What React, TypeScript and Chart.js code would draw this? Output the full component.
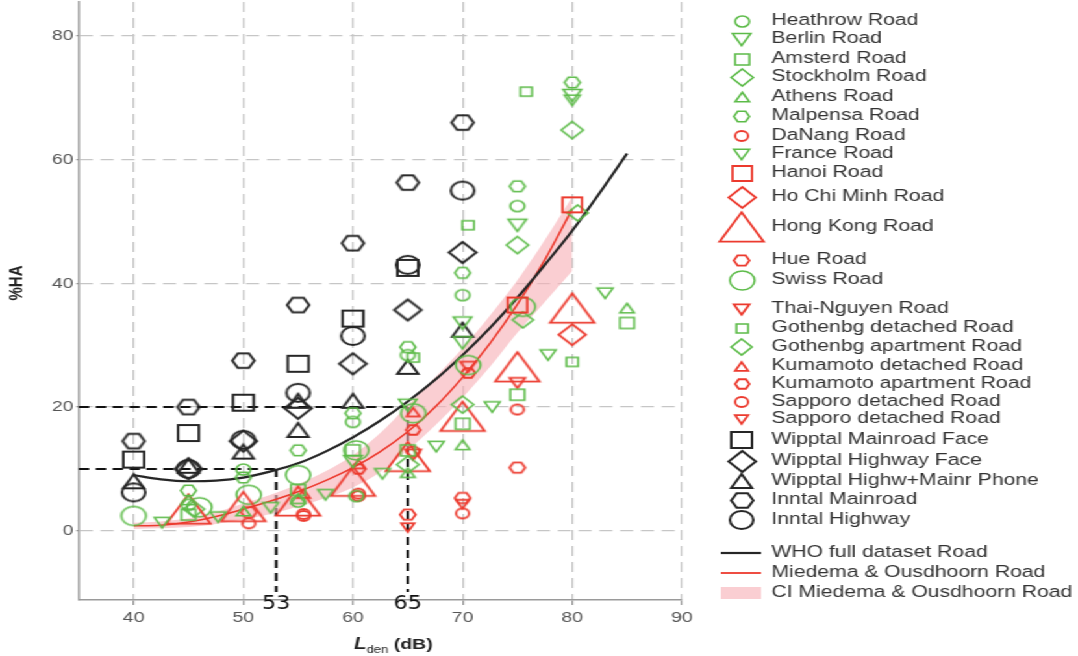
import React, { useEffect, useRef } from "react";
import { Chart, registerables } from "chart.js";
Chart.register(...registerables);

// ---------------- data ----------------
type Pt = [number, number];

const heathrowRoad: Pt[] = [[45, 4.2], [50, 9.9], [55, 4.7], [60.3, 5.6], [60, 17.6], [65, 28.4], [70, 38.1], [75, 52.5]];
const berlinRoad: Pt[] = [[60, 11.2], [65, 20.3], [70, 33.6], [70, 30.4], [75, 49.4], [80, 70.4]];
const amsterdRoad: Pt[] = [[45, 2.6], [55, 6.6], [60, 13], [65, 13], [70, 17.3], [75, 22], [85, 33.6]];
const stockholmRoad: Pt[] = [[65, 10.7], [70, 20.4], [75, 46.2], [80, 64.8]];
const athensRoad: Pt[] = [[45, 5], [50, 3.2], [55, 5.2], [65, 9.4], [70, 13.9], [85, 36]];
const malpensaRoad: Pt[] = [[45, 6.5], [50, 8.6], [55, 13], [60, 19], [65, 29.7], [70, 41.7], [75, 55.7], [80, 72.5]];
const daNangRoad: Pt[] = [[50.5, 1.2], [55.5, 2.7], [60.5, 6], [70, 2.8], [75, 19.6]];
const franceRoad: Pt[] = [[42.6, 1.3], [47.7, 2.2], [52.5, 3.7], [57.5, 5.8], [62.7, 9.2], [67.6, 13.6], [72.7, 20], [77.8, 28.4], [83, 38.4], [80, 69.6]];
const hanoiRoad: Pt[] = [[75, 36.5], [80, 52.7]];
const hoChiMinhRoad: Pt[] = [[80, 31.7]];
const hongKongRoad: Pt[] = [[45, 3.5], [50, 3.9], [55, 4.8], [60, 8], [65, 12], [70, 18.5], [75, 26.5], [80, 36]];
const hueRoad: Pt[] = [[50.5, 3], [65, 2.6], [70, 5.3], [75, 10.2]];
const swissRoad: Pt[] = [[40, 2.4], [46, 3.8], [50.5, 5.8], [55, 9], [60.3, 13], [65.5, 19], [70.5, 26.8], [75.5, 36.2]];
const thaiNguyenRoad: Pt[] = [[75, 23.9], [65.5, 12.3], [70.5, 26.5]];
const gothenbgDetachedRoad: Pt[] = [[65.5, 28], [70.5, 49.4], [75.8, 71], [80, 27.3]];
const gothenbgApartmentRoad: Pt[] = [[75.5, 34.1], [80.5, 51.4], [45.5, 3.5]];
const kumamotoDetachedRoad: Pt[] = [[55.5, 6], [60.5, 10.8], [65.5, 19.2]];
const kumamotoApartmentRoad: Pt[] = [[60.5, 10], [65.5, 16.3], [70.5, 25.5]];
const sapporoDetachedCircle: Pt[] = [[55.5, 2.4], [60.5, 5.6], [65.5, 12.8]];
const sapporoDetachedTriangle: Pt[] = [[65, 0.5], [70, 4.3]];
const wipptalMainroadFace: Pt[] = [[40, 11.5], [45, 15.8], [50, 20.7], [55, 27], [60, 34.3], [65, 42.5]];
const wipptalHighwayFace: Pt[] = [[45, 10], [50, 14.5], [55, 19.8], [60, 27], [65, 35.7], [70, 45]];
const wipptalHighwMainrPhone: Pt[] = [[40, 8], [45, 10.5], [50, 12.8], [55, 21], [55, 16.3], [60, 21], [65, 26.5], [70, 32.5]];
const inntalMainroad: Pt[] = [[40, 14.5], [45, 20], [50, 27.5], [55, 36.5], [60, 46.5], [65, 56.3], [70, 66]];
const inntalHighway: Pt[] = [[40, 6.2], [45, 10], [50, 14.7], [55, 22.3], [60, 31.5], [65, 43], [70, 55]];

const whoLden = [40, 42.5, 45, 47.5, 50, 52.5, 55, 57.5, 60, 62.5, 65, 67.5, 70, 72.5, 75, 77.5, 80, 82.5, 85];
const whoHA = [9.0, 8.3, 8.0, 8.1, 8.6, 9.6, 10.9, 12.8, 15.1, 17.8, 20.9, 24.4, 28.4, 32.8, 37.7, 43.0, 48.5, 54.6, 61.0];
const miedemaLden = [40, 42.5, 45, 47.5, 50, 52.5, 55, 57.5, 60, 62.5, 65, 67.5, 70, 72.5, 75, 77.5, 80];
const miedemaHA = [0.8, 0.9, 1.4, 2.3, 3.5, 4.8, 6.3, 8.1, 10.2, 12.8, 16.0, 20.0, 24.8, 30.3, 36.6, 43.8, 52.0];
const ciLower = [0.3, 0.4, 0.6, 1.1, 1.8, 2.7, 3.9, 5.3, 7.0, 9.5, 13.0, 17.0, 21.5, 26.5, 32.0, 37.0, 42.0];
const ciUpper = [1.3, 1.5, 2.0, 3.0, 4.4, 5.8, 7.5, 9.6, 12.2, 15.8, 20.3, 24.8, 29.5, 34.8, 40.5, 47.0, 54.0];

const xTicks = [40, 50, 60, 70, 80, 90];
const yTicks = [0, 20, 40, 60, 80];
const refLden = [53, 65];
const refHA = [10, 20];

// ---------------- styles / layout ----------------
const GREEN = "#5cbb48";
const RED = "#ec3a2e";
const BLACK = "#262626";
const PINK = "rgba(247, 176, 182, 0.62)";
const FONT = '"Liberation Sans", Arial, Helvetica, sans-serif';
const CW = 830; // canvas width, stretched horizontally to 1078
const CH = 656;

type Shape = "circle" | "square" | "diamond" | "triangle" | "triangleDown" | "hexagon";
interface Spec { label: string; data: Pt[]; shape: Shape; color: string; size: number; lw: number; }

const specs: Spec[] = [
  { label: "Heathrow Road", data: heathrowRoad, shape: "circle", color: GREEN, size: 11, lw: 1.6 },
  { label: "Berlin Road", data: berlinRoad, shape: "triangleDown", color: GREEN, size: 14, lw: 1.6 },
  { label: "Amsterd Road", data: amsterdRoad, shape: "square", color: GREEN, size: 11, lw: 1.6 },
  { label: "Stockholm Road", data: stockholmRoad, shape: "diamond", color: GREEN, size: 17, lw: 1.6 },
  { label: "Athens Road", data: athensRoad, shape: "triangle", color: GREEN, size: 11, lw: 1.6 },
  { label: "Malpensa Road", data: malpensaRoad, shape: "hexagon", color: GREEN, size: 12, lw: 1.6 },
  { label: "DaNang Road", data: daNangRoad, shape: "circle", color: RED, size: 10, lw: 1.8 },
  { label: "France Road", data: franceRoad, shape: "triangleDown", color: GREEN, size: 12, lw: 1.6 },
  { label: "Hanoi Road", data: hanoiRoad, shape: "square", color: RED, size: 15, lw: 1.8 },
  { label: "Ho Chi Minh Road", data: hoChiMinhRoad, shape: "diamond", color: RED, size: 21, lw: 1.8 },
  { label: "Hong Kong Road", data: hongKongRoad, shape: "triangle", color: RED, size: 34, lw: 1.8 },
  { label: "Hue Road", data: hueRoad, shape: "hexagon", color: RED, size: 12, lw: 1.8 },
  { label: "Swiss Road", data: swissRoad, shape: "circle", color: GREEN, size: 19, lw: 1.6 },
  { label: "Thai-Nguyen Road", data: thaiNguyenRoad, shape: "triangleDown", color: RED, size: 12, lw: 1.8 },
  { label: "Gothenbg detached Road", data: gothenbgDetachedRoad, shape: "square", color: GREEN, size: 9, lw: 1.6 },
  { label: "Gothenbg apartment Road", data: gothenbgApartmentRoad, shape: "diamond", color: GREEN, size: 16, lw: 1.6 },
  { label: "Kumamoto detached Road", data: kumamotoDetachedRoad, shape: "triangle", color: RED, size: 10, lw: 1.8 },
  { label: "Kumamoto apartment Road", data: kumamotoApartmentRoad, shape: "hexagon", color: RED, size: 11, lw: 1.8 },
  { label: "Sapporo detached Road", data: sapporoDetachedCircle, shape: "circle", color: RED, size: 10, lw: 1.8 },
  { label: "Sapporo detached Road", data: sapporoDetachedTriangle, shape: "triangleDown", color: RED, size: 10, lw: 1.8 },
  { label: "Wipptal Mainroad Face", data: wipptalMainroadFace, shape: "square", color: BLACK, size: 16, lw: 2 },
  { label: "Wipptal Highway Face", data: wipptalHighwayFace, shape: "diamond", color: BLACK, size: 21, lw: 2 },
  { label: "Wipptal Highw+Mainr Phone", data: wipptalHighwMainrPhone, shape: "triangle", color: BLACK, size: 16, lw: 2 },
  { label: "Inntal Mainroad", data: inntalMainroad, shape: "hexagon", color: BLACK, size: 17, lw: 2 },
  { label: "Inntal Highway", data: inntalHighway, shape: "circle", color: BLACK, size: 18, lw: 2 },
];

const LEGEND_ROWS = [21, 39, 59, 77, 97, 116, 136, 154, 173, 197, 227, 260, 280, 309, 328, 347, 366, 384, 402, 419, 440, 461, 481, 500, 520, 553, 573, 593];
const LEGEND_MARK_X = 571;
const LEGEND_TEXT_X = 594;

function makeMarker(shape: Shape, color: string, size: number, lw: number): HTMLCanvasElement {
  const s3 = Math.sqrt(3) / 2;
  let w = size, h = size;
  if (shape === "hexagon" || shape === "triangle" || shape === "triangleDown") h = size * s3;
  const pad = Math.ceil(lw) + 1;
  const c = document.createElement("canvas");
  c.width = Math.ceil(w + 2 * pad);
  c.height = Math.ceil(h + 2 * pad);
  const g = c.getContext("2d")!;
  g.translate(c.width / 2, c.height / 2);
  g.strokeStyle = color;
  g.lineWidth = lw;
  g.lineJoin = "miter";
  g.beginPath();
  if (shape === "circle") {
    g.arc(0, 0, size / 2, 0, Math.PI * 2);
  } else if (shape === "square") {
    g.rect(-size / 2, -size / 2, size, size);
  } else if (shape === "diamond") {
    g.moveTo(0, -size / 2); g.lineTo(size / 2, 0); g.lineTo(0, size / 2); g.lineTo(-size / 2, 0); g.closePath();
  } else if (shape === "triangle") {
    g.moveTo(0, -h / 2); g.lineTo(size / 2, h / 2); g.lineTo(-size / 2, h / 2); g.closePath();
  } else if (shape === "triangleDown") {
    g.moveTo(0, h / 2); g.lineTo(size / 2, -h / 2); g.lineTo(-size / 2, -h / 2); g.closePath();
  } else if (shape === "hexagon") {
    const r = size / 2;
    for (let k = 0; k < 6; k++) {
      const a = (k * Math.PI) / 3;
      const px = r * Math.cos(a), py = r * Math.sin(a);
      if (k === 0) g.moveTo(px, py); else g.lineTo(px, py);
    }
    g.closePath();
  }
  g.stroke();
  return c;
}

const toXY = (xs: number[], ys: number[]) => xs.map((x, i) => ({ x, y: ys[i] }));
const noPad = (scale: any) => { scale.paddingTop = 0; scale.paddingBottom = 0; scale.paddingLeft = 0; scale.paddingRight = 0; };

export default function App() {
  const ref = useRef<HTMLCanvasElement>(null);

  useEffect(() => {
    document.body.style.margin = "0";
    const canvas = ref.current;
    if (!canvas) return;
    const markers = specs.map((s) => makeMarker(s.shape, s.color, s.size, s.lw));

    const scatterSets: any[] = specs.map((s, i) => ({
      type: "scatter",
      label: s.label,
      data: s.data.map(([x, y]) => ({ x, y })),
      pointStyle: markers[i],
      pointRadius: s.size / 2,
      pointHoverRadius: s.size / 2,
      order: 1,
    }));

    const lineSets: any[] = [
      {
        type: "line", label: "WHO full dataset Road", data: toXY(whoLden, whoHA),
        borderColor: BLACK, borderWidth: 2.2, pointRadius: 0, cubicInterpolationMode: "monotone", fill: false, order: 2,
      },
      {
        type: "line", label: "Miedema & Ousdhoorn Road", data: toXY(miedemaLden, miedemaHA),
        borderColor: RED, borderWidth: 1.6, pointRadius: 0, cubicInterpolationMode: "monotone", fill: false, order: 3,
      },
      {
        type: "line", label: "CI lower", data: toXY(miedemaLden, ciLower),
        borderWidth: 0, borderColor: "rgba(0,0,0,0)", pointRadius: 0, cubicInterpolationMode: "monotone", fill: false, order: 4,
      },
      {
        type: "line", label: "CI Miedema & Ousdhoorn Road", data: toXY(miedemaLden, ciUpper),
        borderWidth: 0, borderColor: "rgba(0,0,0,0)", backgroundColor: PINK, pointRadius: 0,
        cubicInterpolationMode: "monotone", fill: "-1", order: 4,
      },
    ];

    const refPlugin = {
      id: "refLines",
      beforeDatasetsDraw(chart: any) {
        const { ctx, chartArea } = chart;
        const xs = chart.scales.x, ys = chart.scales.y;
        ctx.save();
        ctx.strokeStyle = "#111";
        ctx.lineWidth = 2;
        ctx.setLineDash([8, 5]);
        refLden.forEach((lx, i) => {
          const px = xs.getPixelForValue(lx);
          const py = ys.getPixelForValue(refHA[i]);
          ctx.beginPath();
          ctx.moveTo(chartArea.left, py);
          ctx.lineTo(px, py);
          ctx.stroke();
          ctx.beginPath();
          ctx.moveTo(px, py);
          ctx.lineTo(px, chartArea.bottom - 8);
          ctx.stroke();
        });
        ctx.restore();
      },
      afterDraw(chart: any) {
        const { ctx, chartArea } = chart;
        const xs = chart.scales.x;
        ctx.save();
        ctx.fillStyle = "#111";
        ctx.textAlign = "center";
        ctx.textBaseline = "middle";
        ctx.font = `19px "Liberation Sans Narrow", "DejaVu Sans Condensed", ${FONT}`;
        refLden.forEach((lx) => {
          ctx.fillText(String(lx), xs.getPixelForValue(lx), chartArea.bottom + 4);
        });
        ctx.restore();
      },
    };

    const titlePlugin = {
      id: "axisTitles",
      afterDraw(chart: any) {
        const { ctx, chartArea } = chart;
        ctx.save();
        ctx.fillStyle = "#222";
        ctx.textBaseline = "alphabetic";
        const f1 = `italic bold 16px ${FONT}`;
        const f2 = `10px ${FONT}`;
        const f3 = `bold 15px ${FONT}`;
        ctx.font = f1; const w1 = ctx.measureText("L").width;
        ctx.font = f2; const w2 = ctx.measureText("den").width;
        ctx.font = f3; const w3 = ctx.measureText(" (dB)").width;
        const total = w1 + w2 + w3;
        let x = (chartArea.left + chartArea.right) / 2 + 10 - total / 2;
        const base = 649;
        ctx.font = f1; ctx.fillText("L", x, base); x += w1;
        ctx.font = f2; ctx.fillText("den", x, base + 4); x += w2;
        ctx.font = f3; ctx.fillText(" (dB)", x, base);
        ctx.translate(13, 283);
        ctx.rotate(-Math.PI / 2);
        ctx.textAlign = "center";
        ctx.textBaseline = "middle";
        ctx.font = `bold 15px ${FONT}`;
        ctx.fillText("%HA", 0, 0);
        ctx.restore();
      },
    };

    const legendPlugin = {
      id: "sideLegend",
      afterDraw(chart: any) {
        const { ctx } = chart;
        ctx.save();
        ctx.font = `16.3px ${FONT}`;
        ctx.fillStyle = "#333";
        ctx.textBaseline = "middle";
        ctx.textAlign = "left";
        specs.forEach((s, i) => {
          const y = LEGEND_ROWS[i];
          const m = markers[i];
          ctx.drawImage(m, Math.round(LEGEND_MARK_X - m.width / 2), Math.round(y - m.height / 2));
          ctx.fillText(s.label, LEGEND_TEXT_X, y);
        });
        const n = specs.length;
        let y = LEGEND_ROWS[n];
        ctx.strokeStyle = BLACK; ctx.lineWidth = 2.2;
        ctx.beginPath(); ctx.moveTo(555, y); ctx.lineTo(586, y); ctx.stroke();
        ctx.fillText(lineSets[0].label, LEGEND_TEXT_X, y);
        y = LEGEND_ROWS[n + 1];
        ctx.strokeStyle = RED; ctx.lineWidth = 1.8;
        ctx.beginPath(); ctx.moveTo(555, y); ctx.lineTo(586, y); ctx.stroke();
        ctx.fillText(lineSets[1].label, LEGEND_TEXT_X, y);
        y = LEGEND_ROWS[n + 2];
        ctx.fillStyle = PINK;
        ctx.fillRect(555, y - 6, 31, 12);
        ctx.fillStyle = "#333";
        ctx.fillText(lineSets[3].label, LEGEND_TEXT_X, y);
        ctx.restore();
      },
    };

    const gridColor = "#c6c6c6";
    const chart = new Chart(canvas, {
      type: "scatter",
      data: { datasets: [...scatterSets, ...lineSets] },
      options: {
        animation: false,
        responsive: false,
        maintainAspectRatio: false,
        devicePixelRatio: 1,
        layout: { autoPadding: false, padding: { left: 38, right: CW - 525, top: 2, bottom: 25 } },
        plugins: { legend: { display: false }, tooltip: { enabled: false }, title: { display: false } },
        scales: {
          x: {
            type: "linear", min: 35, max: 90,
            afterBuildTicks: (scale: any) => { scale.ticks = xTicks.map((v) => ({ value: v })); },
            afterFit: noPad,
            ticks: { color: "#555", font: { family: FONT, size: 15 }, padding: 4 },
            grid: { color: gridColor, lineWidth: 1.3, tickLength: 5, tickColor: "#999" },
            border: { display: true, color: "#9a9a9a", width: 1.5, dash: [10, 6] },
            title: { display: false },
          },
          y: {
            type: "linear", min: -11.2, max: 85.5,
            afterBuildTicks: (scale: any) => { scale.ticks = yTicks.map((v) => ({ value: v })); },
            afterFit: noPad,
            ticks: { color: "#555", font: { family: FONT, size: 15 }, padding: 2 },
            grid: { color: gridColor, lineWidth: 1.3, tickLength: 2, tickColor: "#999" },
            border: { display: true, color: "#9a9a9a", width: 1.5, dash: [10, 6] },
            title: { display: false },
          },
        },
      } as any,
      plugins: [refPlugin, titlePlugin, legendPlugin],
    });
    return () => chart.destroy();
  }, []);

  return (
    <div
      style={{
        position: "fixed", left: 0, top: 0, width: CW, height: CH, background: "#fff",
        transform: `scaleX(${1078 / CW})`, transformOrigin: "0 0",
      }}
    >
      <canvas ref={ref} width={CW} height={CH} style={{ width: CW, height: CH, display: "block" }} />
    </div>
  );
}
